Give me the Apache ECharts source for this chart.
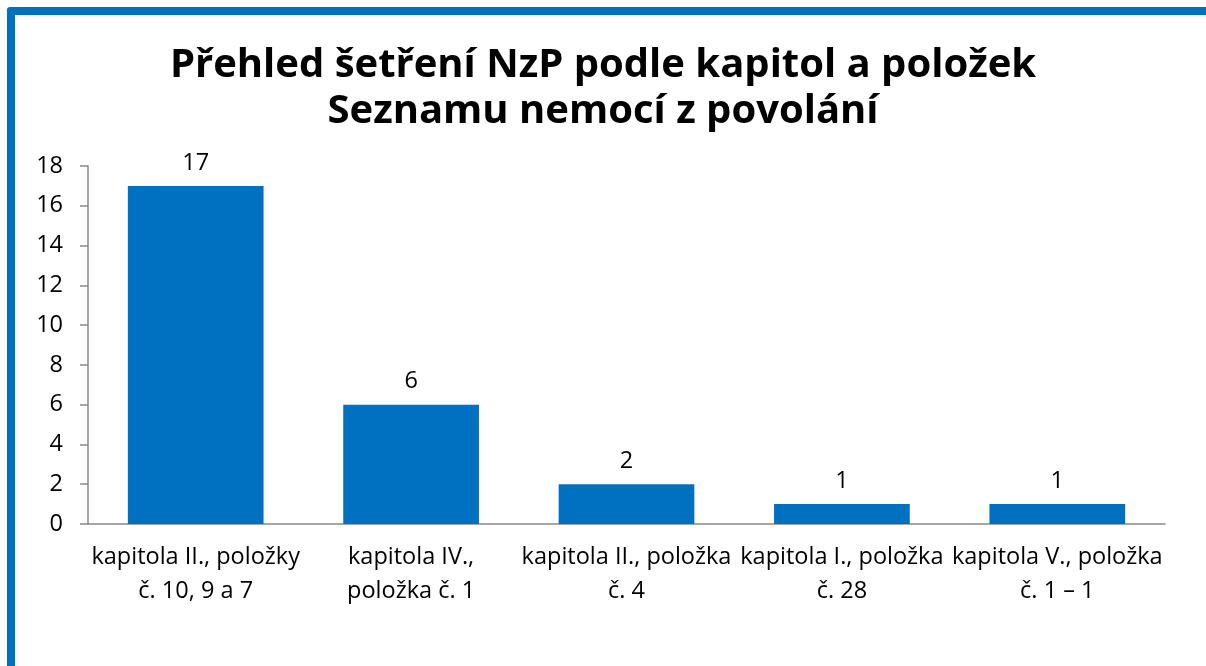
<!DOCTYPE html>
<html>
<head>
<meta charset="utf-8">
<script src="https://cdn.jsdelivr.net/npm/echarts@6/dist/echarts.min.js"></script>
<style>
  html, body { margin: 0; padding: 0; background: #fff; }
  #frame { position: absolute; left: 7px; top: 7px; width: 1220px; height: 700px;
           border: 8px solid #0070C0; border-radius: 3px; box-sizing: border-box; }
  #chart { position: absolute; left: 0; top: 0; width: 1206px; height: 666px; }
</style>
</head>
<body>
<div id="frame"></div>
<div id="chart"></div>
<script>
// kategorie (kapitoly / položky)
var categories = [
  'kapitola II., položky\nč. 10, 9 a 7',
  'kapitola IV.,\npoložka č. 1',
  'kapitola II., položka\nč. 4',
  'kapitola I., položka\nč. 28',
  'kapitola V., položka\nč. 1 – 1'
];
// počet šetření
var values = [17, 6, 2, 1, 1];
var yTicks = [0, 2, 4, 6, 8, 10, 12, 14, 16, 18];

var font = '"Open Sans", sans-serif';
var chart = echarts.init(document.getElementById('chart'));

var option = {
  animation: false,
  title: {
    text: 'Přehled šetření NzP podle kapitol a položek\nSeznamu nemocí z povolání',
    left: 'center',
    top: 38,
    textStyle: { fontFamily: font, fontSize: 40, fontWeight: 'bold', color: '#000', lineHeight: 46 }
  },
  grid: { left: 88, right: 41, top: 166, bottom: 142, outerBoundsMode: 'none' },
  xAxis: {
    type: 'category',
    data: categories,
    axisLine: { lineStyle: { color: '#898989', width: 1.5 } },
    axisTick: { show: false },
    axisLabel: { fontFamily: font, fontSize: 23.5, color: '#000', lineHeight: 34, margin: 16, interval: 0 }
  },
  yAxis: {
    type: 'value',
    min: yTicks[0],
    max: yTicks[yTicks.length - 1],
    interval: 2,
    splitLine: { show: false },
    axisLine: { show: true, lineStyle: { color: '#898989', width: 1.5 } },
    axisTick: { show: true, length: 8, lineStyle: { color: '#898989', width: 1.5 } },
    axisLabel: { fontFamily: font, fontSize: 23.5, color: '#000', margin: 25 }
  },
  series: [{
    type: 'bar',
    data: values,
    barWidth: '63%',
    itemStyle: { color: '#0070C0' },
    label: { show: true, position: 'top', distance: 11, fontFamily: font, fontSize: 23.5, color: '#000' }
  }]
};
chart.setOption(option);
</script>
</body>
</html>
